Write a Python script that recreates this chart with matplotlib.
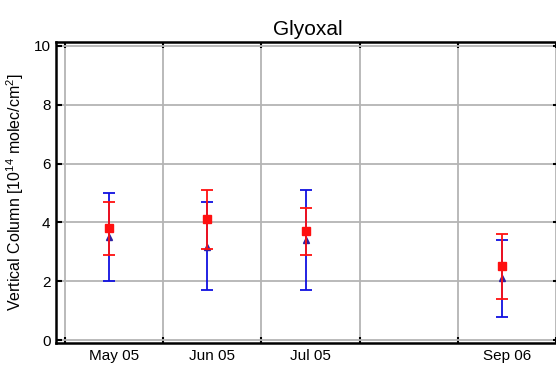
import numpy as np
import matplotlib
matplotlib.use('Agg')
from matplotlib import pyplot as plt

plt.rcParams['font.family'] = ['Liberation Sans', 'DejaVu Sans']
plt.rcParams['mathtext.fontset'] = 'custom'
plt.rcParams['mathtext.rm'] = 'Liberation Sans'

months = ['May 05', 'Jun 05', 'Jul 05', '', 'Sep 06']
slots = [1, 2, 3, 5]

red_val = [3.8, 4.1, 3.7, 2.5]
red_hi = [4.7, 5.1, 4.5, 3.6]
red_lo = [2.9, 3.1, 2.9, 1.4]

blue_val = [3.5, 3.17, 3.4, 2.1]
blue_hi = [5.0, 4.7, 5.1, 3.4]
blue_lo = [2.0, 1.7, 1.7, 0.8]

fig = plt.figure(figsize=(5.56, 3.65), dpi=100)
ax = fig.add_axes([56 / 556, 1 - 343 / 365, 503 / 556, (343 - 42) / 365])

x = np.array(slots) - 0.05
bv = np.array(blue_val)
ax.errorbar(x, bv, yerr=[bv - np.array(blue_lo), np.array(blue_hi) - bv],
            fmt='^', color='#1010e0', mfc='#3020a0', mec='#3020a0', ms=5,
            elinewidth=1.3, capsize=4.5, capthick=1.3, zorder=3)
rv = np.array(red_val)
ax.errorbar(x, rv, yerr=[rv - np.array(red_lo), np.array(red_hi) - rv],
            fmt='s', color='#ff1010', ms=5.5,
            elinewidth=1.3, capsize=4.5, capthick=1.3, zorder=4)

ax.set_xlim(0.41, 5.53)
ax.set_ylim(-0.1, 10.13)
ax.set_xticks(np.arange(0.5, 6.0, 1.0))
ax.set_xticklabels([])
ax.set_xticks(range(1, 6), minor=True)
ax.set_xticklabels(months, minor=True, fontsize=11)
ax.tick_params(axis='x', which='minor', length=0, pad=4)
ax.tick_params(axis='x', which='major', direction='in', length=4, width=1.5,
               top=True, bottom=True)
ax.set_yticks(range(0, 11, 2))
ax.tick_params(axis='y', direction='in', length=4, width=1.5, left=True,
               right=True, labelsize=11, pad=4)
ax.grid(True, which='major', color='#b4b4b4', lw=1.3)
ax.set_axisbelow(True)
for s in ax.spines.values():
    s.set_linewidth(1.8)

ax.set_title('Glyoxal', fontsize=15, pad=5)
ax.set_ylabel('Vertical Column [10$^{14}$ molec/cm$^2$]', fontsize=11.5,
              labelpad=5)

fig.savefig('out.png', dpi=100)
